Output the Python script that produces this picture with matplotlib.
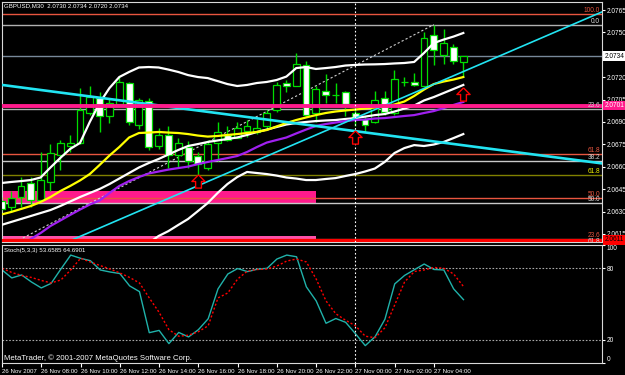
import numpy as np
import matplotlib.pyplot as plt
from matplotlib.path import Path

plt.rcParams['font.family'] = ['Liberation Sans', 'DejaVu Sans']

# GBPUSD M30, 26 Nov 2007 06:00 .. 27 Nov 05:30
opens = [2.0637, 2.0633, 2.0640, 2.0649, 2.0638, 2.0650, 2.0668, 2.0674, 2.0676, 2.0696,
         2.0706, 2.0694, 2.0702, 2.0716, 2.0688, 2.0704, 2.0674, 2.0681, 2.0668, 2.0673,
         2.0667, 2.0659, 2.0676, 2.0681, 2.0679, 2.0684, 2.0683, 2.0687, 2.0698, 2.0716,
         2.0714, 2.0728, 2.0696, 2.0711, 2.0708, 2.0710, 2.0696, 2.0692, 2.0690, 2.0706,
         2.0696, 2.0717, 2.0717, 2.0714, 2.0748, 2.0735, 2.0740, 2.0730]
highs = [2.0640, 2.0644, 2.0653, 2.0653, 2.0670, 2.0675, 2.0678, 2.0681, 2.0713, 2.0714,
         2.0710, 2.0706, 2.0720, 2.0717, 2.0706, 2.0706, 2.0686, 2.0687, 2.0679, 2.0677,
         2.0670, 2.0678, 2.0690, 2.0687, 2.0690, 2.0691, 2.0692, 2.0698, 2.0717, 2.0718,
         2.0736, 2.0731, 2.0714, 2.0722, 2.0716, 2.0711, 2.0699, 2.0694, 2.0711, 2.0711,
         2.0725, 2.0720, 2.0723, 2.0750, 2.0755, 2.0752, 2.0742, 2.0734]
lows = [2.0630, 2.0630, 2.0633, 2.0633, 2.0637, 2.0644, 2.0658, 2.0670, 2.0675, 2.0695,
        2.0683, 2.0689, 2.0701, 2.0688, 2.0685, 2.0671, 2.0672, 2.0659, 2.0660, 2.0659,
        2.0650, 2.0658, 2.0664, 2.0677, 2.0679, 2.0680, 2.0682, 2.0685, 2.0697, 2.0710,
        2.0714, 2.0694, 2.0690, 2.0703, 2.0703, 2.0694, 2.0687, 2.0683, 2.0689, 2.0695,
        2.0695, 2.0714, 2.0714, 2.0714, 2.0728, 2.0729, 2.0729, 2.0720]
closes = [2.0632, 2.0639, 2.0647, 2.0638, 2.0651, 2.0669, 2.0676, 2.0676, 2.0698, 2.0707,
          2.0694, 2.0703, 2.0717, 2.0690, 2.0705, 2.0673, 2.0681, 2.0668, 2.0676, 2.0664,
          2.0662, 2.0675, 2.0683, 2.0678, 2.0686, 2.0687, 2.0686, 2.0696, 2.0715, 2.0714,
          2.0729, 2.0695, 2.0712, 2.0708, 2.0708, 2.0702, 2.0693, 2.0688, 2.0705, 2.0697,
          2.0719, 2.0717, 2.0715, 2.0746, 2.0738, 2.0743, 2.0731, 2.0734]

# indicator lines, one value per bar
bb_upper = [2.06491, 2.06498, 2.06504, 2.06511, 2.06528, 2.06595, 2.06659, 2.06719, 2.06759, 2.06900,
            2.07027, 2.07127, 2.07201, 2.07235, 2.07265, 2.07268, 2.07265, 2.07251, 2.07235, 2.07214,
            2.07201, 2.07194, 2.07174, 2.07154, 2.07141, 2.07148, 2.07161, 2.07168, 2.07181, 2.07204,
            2.07261, 2.07268, 2.07255, 2.07261, 2.07268, 2.07278, 2.07282, 2.07285, 2.07286, 2.07288,
            2.07292, 2.07295, 2.07302, 2.07362, 2.07429, 2.07452, 2.07472, 2.07496]
bb_mid = [2.06210, 2.06230, 2.06250, 2.06270, 2.06290, 2.06310, 2.06337, 2.06367, 2.06397, 2.06424,
          2.06451, 2.06484, 2.06521, 2.06558, 2.06595, 2.06625, 2.06652, 2.06682, 2.06712, 2.06739,
          2.06752, 2.06766, 2.06776, 2.06786, 2.06796, 2.06813, 2.06833, 2.06849, 2.06866, 2.06883,
          2.06893, 2.06900, 2.06906, 2.06910, 2.06913, 2.06920, 2.06926, 2.06936, 2.06946, 2.06953,
          2.06970, 2.06990, 2.07010, 2.07044, 2.07067, 2.07094, 2.07121, 2.07148]
bb_lower = [np.nan] * 15 + [
            2.06089, 2.06136, 2.06169, 2.06210, 2.06250,
            2.06303, 2.06357, 2.06424, 2.06484, 2.06531, 2.06565, 2.06558, 2.06551, 2.06541, 2.06528,
            2.06521, 2.06511, 2.06511, 2.06518, 2.06524, 2.06538, 2.06551, 2.06568, 2.06588, 2.06632,
            2.06692, 2.06725, 2.06745, 2.06739, 2.06749, 2.06766, 2.06792, 2.06819]
ma_yellow = [2.06280, 2.06297, 2.06317, 2.06337, 2.06364, 2.06397, 2.06437, 2.06471, 2.06508, 2.06551,
             2.06612, 2.06675, 2.06732, 2.06796, 2.06826, 2.06829, 2.06833, 2.06829, 2.06826, 2.06819,
             2.06809, 2.06802, 2.06806, 2.06813, 2.06819, 2.06826, 2.06833, 2.06846, 2.06870, 2.06893,
             2.06913, 2.06930, 2.06946, 2.06960, 2.06970, 2.06977, 2.06983, 2.06990, 2.06997, 2.07004,
             2.07017, 2.07037, 2.07074, 2.07117, 2.07154, 2.07171, 2.07184, 2.07201]
ma_purple = [np.nan] * 3 + [
             2.06116, 2.06156, 2.06203, 2.06240, 2.06277, 2.06313, 2.06347,
             2.06374, 2.06424, 2.06471, 2.06504, 2.06531, 2.06555, 2.06568, 2.06581, 2.06591, 2.06601,
             2.06618, 2.06632, 2.06645, 2.06658, 2.06672, 2.06699, 2.06732, 2.06762, 2.06779, 2.06796,
             2.06823, 2.06849, 2.06873, 2.06886, 2.06896, 2.06906, 2.06913, 2.06916, 2.06923, 2.06926,
             2.06933, 2.06940, 2.06946, 2.06960, 2.06973, 2.06993, 2.07014, 2.07034]

stoch_main = [78.6, 71.9, 74.4, 68.5, 63.5, 67.3, 79.4, 91.1, 88.4, 86.4,
              78.6, 76.9, 75.6, 65.2, 60.4, 25.9, 27.8, 16.7, 26.1, 22.3,
              28.4, 37.6, 62.7, 75.2, 79.8, 77.2, 79.2, 80.0, 87.8, 91.1,
              89.7, 64.4, 52.6, 33.8, 37.8, 34.6, 25.0, 15.0, 22.5, 37.2,
              66.9, 74.0, 78.8, 83.6, 79.0, 78.6, 62.7, 53.66]
stoch_signal = [80.0, 76.5, 74.0, 72.3, 69.8, 67.7, 70.2, 78.6, 88.4, 85.3,
                82.3, 79.4, 76.1, 72.3, 67.7, 55.1, 43.0, 28.4, 22.9, 23.8,
                26.7, 31.7, 55.1, 59.3, 71.0, 77.7, 79.0, 79.4, 81.9, 86.1,
                87.8, 85.3, 71.0, 52.6, 41.8, 36.3, 31.7, 22.9, 21.7, 30.0,
                49.3, 68.5, 77.3, 78.6, 80.7, 80.0, 75.2, 64.69]

time_labels = ['26 Nov 2007', '26 Nov 08:00', '26 Nov 10:00', '26 Nov 12:00', '26 Nov 14:00',
               '26 Nov 16:00', '26 Nov 18:00', '26 Nov 20:00', '26 Nov 22:00', '27 Nov 00:00',
               '27 Nov 02:00', '27 Nov 04:00']
price_ticks = [2.0615, 2.0630, 2.0645, 2.0660, 2.0675, 2.0690, 2.0705, 2.0720, 2.0750, 2.0765]

# fibonacci / horizontal objects
fib_prices = [2.07623, 2.07552, 2.06989, 2.06684, 2.06641, 2.06547, 2.06393, 2.06360, 2.06118, 2.06079]
fib_labels = ['100.0', '0.0', '23.6', '61.8', '38.2', '61.8', '50.0', '50.0', '23.6', '61.8']
fib_line_colors = ['#e8553f', '#b0b0b0', '#b0b0b0', '#e8553f', '#c8c8c8', '#808000', '#e8553f',
                   '#c8c8c8', '#e8553f', '#c8c8c8']
fib_text_colors = ['#e8553f', '#e0e0e0', '#d0d0d0', '#e8553f', '#d0d0d0', '#f0f000', '#e8553f',
                   '#e0e0e0', '#e8553f', '#d0d0d0']
bid = 2.0734
pink_level = 2.0701
red_level = 2.0611
pink_zone = (2.06356, 2.06440)
pink_zone_low = (2.06090, 2.06135)
zone_end = 32.0
trend_down = ([-0.5, 61.5], [2.07153, 2.06619])
trend_up = ([6.7, 61.1], [2.06096, 2.07637])
fib_diag = ([2.2, 44.0], [2.06123, 2.07552])
vline_bar = 36
arrow_bars = [20, 36, 47]
arrow_prices = [2.06505, 2.06801, 2.07087]

GREEN = '#00dd00'
AX_FS = 4.7
idx = np.arange(len(opens))
o, h, l, c = map(np.array, (opens, highs, lows, closes))
bull = c >= o

fig = plt.figure(figsize=(6.25, 3.75), dpi=100, facecolor='black')
ax = fig.add_axes([0.0032, 0.3547, 0.96, 0.6413])
sx = fig.add_axes([0.0032, 0.0307, 0.96, 0.3173])
for a in (ax, sx):
    a.set_facecolor('black')
    for s in a.spines.values():
        s.set_color('#d8d8d8')
        s.set_linewidth(0.8)
    a.set_xlim(0.07, 61.11)

ax.set_ylim(2.06096, 2.07707)

# background objects
ax.fill_between([-1, zone_end], pink_zone[0], pink_zone[1], color='#ff1a8c', lw=0, zorder=1)
ax.fill_between([-1, zone_end], pink_zone_low[0], pink_zone_low[1], color='#ff4fa8', lw=0, zorder=1)
for p, lc in zip(fib_prices, fib_line_colors):
    ax.axhline(p, color=lc, lw=1, zorder=2)
ax.axhline(bid, color='#778899', lw=1, zorder=2)
ax.plot(fib_diag[0], fib_diag[1], color='#d0d0d0', lw=0.8, ls=(0, (2, 2)), zorder=2)

# candles
ax.vlines(idx, l, h, color=GREEN, lw=1, zorder=3)
ax.bar(idx[bull], (c - o)[bull], bottom=o[bull], width=0.7, color='black',
       edgecolor=GREEN, lw=0.9, zorder=4)
ax.bar(idx[~bull], (c - o)[~bull], bottom=o[~bull], width=0.7, color='white',
       edgecolor=GREEN, lw=0.9, zorder=4)

# indicators
ax.plot(idx, bb_upper, color='white', lw=1.6, zorder=5)
ax.plot(idx, bb_mid, color='white', lw=1.6, zorder=5)
ax.plot(idx, bb_lower, color='white', lw=1.6, zorder=5)
ax.plot(idx, ma_yellow, color='#ffff00', lw=1.6, zorder=5)
ax.plot(idx, ma_purple, color='#a020f0', lw=1.6, zorder=5)

ax.plot(trend_down[0], trend_down[1], color='#22e4f2', lw=1.9, zorder=6)
ax.plot(trend_up[0], trend_up[1], color='#22e4f2', lw=1.2, zorder=6)
ax.axhline(pink_level, color='#ff1a8c', lw=2.8, zorder=6)
ax.axhline(red_level, color='#ff0000', lw=2.2, zorder=6)

up_arrow = Path([(0, 0.5), (0.5, 0.0), (0.22, 0.0), (0.22, -0.5), (-0.22, -0.5),
                 (-0.22, 0.0), (-0.5, 0.0), (0, 0.5)])
ax.plot(arrow_bars, arrow_prices, ls='none', marker=up_arrow, markersize=9.5,
        markerfacecolor='black', markeredgecolor='red', markeredgewidth=1, zorder=7)

for a in (ax, sx):
    a.axvline(vline_bar, color='white', lw=0.8, ls=(0, (1.5, 2)), zorder=6)

# fib level labels
for p, t, tc in zip(fib_prices, fib_labels, fib_text_colors):
    ax.text(0.9965, p, t, transform=ax.get_yaxis_transform(), ha='right', va='bottom',
            color=tc, fontsize=AX_FS, zorder=8)

# price axis
ax.yaxis.tick_right()
ax.set_yticks(price_ticks)
ax.set_yticklabels(['%.4f' % t for t in price_ticks])
ax.tick_params(axis='y', colors='white', labelsize=AX_FS, length=2, pad=1.2, direction='out')
ax.tick_params(axis='x', bottom=False, labelbottom=False)
tr = ax.get_yaxis_transform()
ax.text(1.004, bid, '%.4f' % bid, transform=tr, ha='left', va='center', fontsize=AX_FS,
        color='black', bbox=dict(boxstyle='square,pad=0.2', fc='white', ec='none'), clip_on=False)
ax.text(1.004, pink_level, '%.4f' % pink_level, transform=tr, ha='left', va='center', fontsize=AX_FS,
        color='white', bbox=dict(boxstyle='square,pad=0.2', fc='#ff1a8c', ec='none'), clip_on=False)
ax.text(1.004, red_level, '%.4f' % red_level, transform=tr, ha='left', va='center', fontsize=AX_FS,
        color='black', bbox=dict(boxstyle='square,pad=0.2', fc='#ff0000', ec='none'), clip_on=False)

# stochastic
sx.set_ylim(0, 100)
sx.axhline(80, color='#a8a8a8', lw=0.8, ls=(0, (1.5, 1.5)))
sx.axhline(20, color='#a8a8a8', lw=0.8, ls=(0, (1.5, 1.5)))
sx.plot(idx, stoch_main, color='#20b2aa', lw=1)
sx.plot(idx, stoch_signal, color='#ff0000', lw=1, ls=(0, (1.5, 1.5)))
sx.yaxis.tick_right()
sx.set_yticks([0, 20, 80, 100])
sx.set_yticklabels(['0', '20', '80', '100'])
sx.tick_params(axis='y', colors='white', labelsize=AX_FS, length=2, pad=1.2)
lbls = sx.get_yticklabels()
lbls[0].set_va('bottom')
lbls[3].set_va('top')
sx.set_xticks(idx[::4])
sx.set_xticklabels(time_labels, ha='left')
sx.tick_params(axis='x', colors='white', labelsize=4.4, length=3, pad=1)

fig.text(0.0064, 0.984, 'GBPUSD,M30  2.0730 2.0734 2.0720 2.0734', color='white',
         fontsize=4.4, va='center', ha='left')
fig.text(0.0064, 0.3333, 'Stoch(5,3,3) 53.6585 64.6901', color='white',
         fontsize=4.4, va='center', ha='left')
fig.text(0.0064, 0.0453, 'MetaTrader, \u00a9 2001-2007 MetaQuotes Software Corp.', color='white',
         fontsize=5.6, va='center', ha='left')

fig.savefig('out.png', dpi=100, facecolor='black')
